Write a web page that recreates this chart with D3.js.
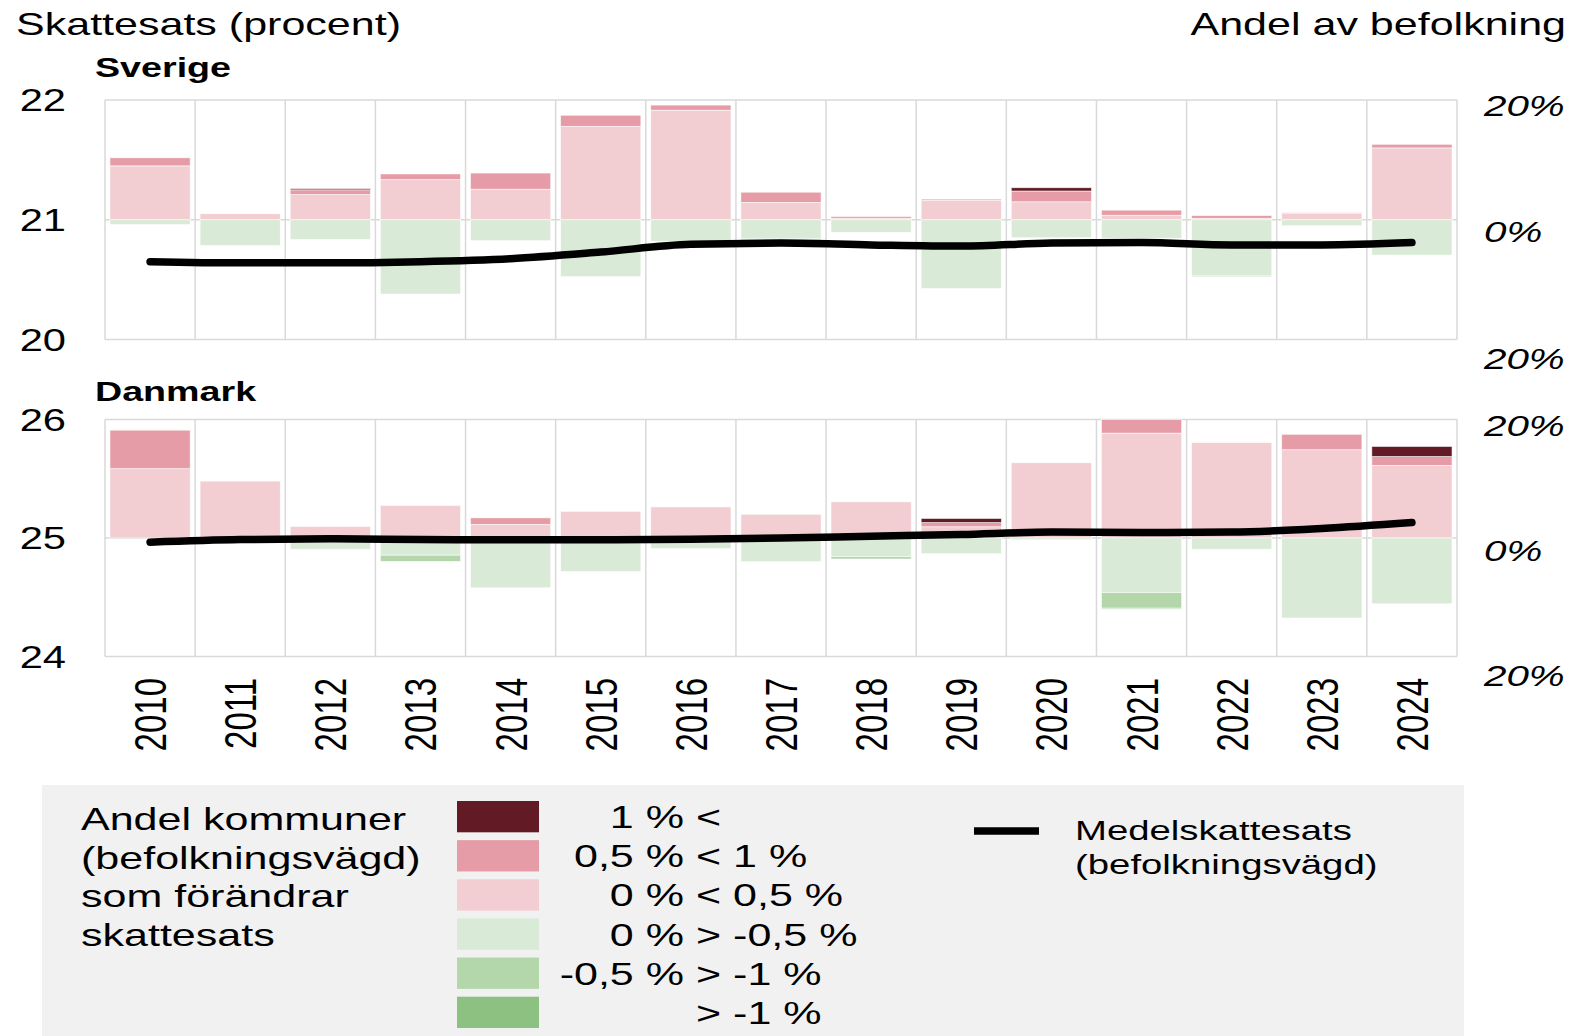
<!DOCTYPE html>
<html>
<head>
<meta charset="utf-8">
<script src="https://cdnjs.cloudflare.com/ajax/libs/d3/7.8.5/d3.min.js"></script>
<style>
	body { margin: 0; background: #fff; }
	svg { display: block; font-family: "Liberation Sans", Arial, sans-serif; }
	.grid line { stroke: #d9d9d9; stroke-width: 1.5; }
	.axis text { fill: #000; }
</style>
</head>
<body>
<div id="chart"></div>
<script>
// tick labels / categories
var years = [2010, 2011, 2012, 2013, 2014, 2015, 2016, 2017, 2018, 2019, 2020, 2021, 2022, 2023, 2024];

// Sverige: mean municipal tax rate (left axis)
var seRate = [20.65, 20.64, 20.64, 20.65, 20.675, 20.73, 20.795, 20.805, 20.79, 20.78, 20.805, 20.81, 20.79, 20.79, 20.81];
// Sverige: share of population (%) by size of change
var seUp1 = [9.0, 1.0, 4.2, 6.7, 5.1, 15.6, 18.3, 2.9, 0.25, 3.25, 3.0, 0.75, 0.25, 1.1, 12.0];   // 0 < 0,5
var seUp2 = [1.35, 0, 0.8, 0.95, 2.7, 1.85, 0.85, 1.7, 0.3, 0.2, 1.8, 0.85, 0.45, 0.1, 0.6];    // 0,5 < 1
var seUp3 = [0, 0, 0.2, 0, 0, 0, 0, 0, 0, 0, 0.55, 0, 0, 0, 0];                                // 1 <
var seDn1 = [0.8, 4.3, 3.3, 12.4, 3.5, 9.5, 3.6, 3.2, 2.1, 11.5, 3.0, 3.1, 9.4, 1.0, 5.9];      // 0 > -0,5
var seDn2 = [0, 0, 0, 0, 0, 0, 0, 0.2, 0, 0, 0, 0, 0.15, 0, 0];                                // -0,5 > -1
var seDn3 = [0, 0, 0, 0, 0, 0, 0, 0, 0, 0, 0, 0, 0, 0, 0];                                     // > -1

// Danmark
var dkRate = [24.965, 24.987, 24.993, 24.987, 24.985, 24.985, 24.99, 25.0, 25.015, 25.03, 25.05, 25.046, 25.05, 25.08, 25.13];
var dkUp1 = [11.7, 9.6, 1.95, 5.5, 2.3, 4.5, 5.25, 4.0, 6.1, 1.9, 12.7, 17.7, 16.1, 14.9, 12.25];
var dkUp2 = [6.5, 0, 0, 0, 1.1, 0, 0, 0, 0, 0.7, 0, 2.3, 0, 2.6, 1.5];
var dkUp3 = [0, 0, 0, 0, 0, 0, 0, 0, 0, 0.7, 0, 0, 0, 0, 1.7];
var dkDn1 = [0, 0.8, 1.9, 2.9, 8.4, 5.65, 1.8, 4.0, 3.15, 2.65, 0.3, 9.2, 1.9, 13.5, 11.1];
var dkDn2 = [0, 0, 0, 1.05, 0, 0, 0, 0, 0.4, 0, 0, 2.65, 0, 0, 0];
var dkDn3 = [0, 0, 0, 0, 0, 0, 0, 0, 0, 0, 0, 0.15, 0, 0, 0];

// legend
var legKeys = ["p3", "p2", "p1", "n1", "n2", "n3"];
var legLeft = ["1 %", "0,5 %", "0 %", "0 %", "-0,5 %", ""];
var legRight = ["<", "< 1 %", "< 0,5 %", "> -0,5 %", "> -1 %", "> -1 %"];
var legTitle = ["Andel kommuner", "(befolkningsvägd)", "som förändrar", "skattesats"];
var lineLabel = ["Medelskattesats", "(befolkningsvägd)"];

var colors = { p3: "#621b24", p2: "#e59ca6", p1: "#f2cdd2", n1: "#d9ebd6", n2: "#b3d6ab", n3: "#8dc182" };

var W = 1572, H = 1036, SX = 1.345;	// text in the reference is stretched horizontally
var left = 105, right = 1457;

var panels = [
	{ name: "Sverige", rate: seRate, up: [seUp1, seUp2, seUp3], dn: [seDn1, seDn2, seDn3], dom: [20, 22], top: 100, bot: 339.5, titleY: 77 },
	{ name: "Danmark", rate: dkRate, up: [dkUp1, dkUp2, dkUp3], dn: [dkDn1, dkDn2, dkDn3], dom: [24, 26], top: 419.5, bot: 656.5, titleY: 401 }
];

var svg = d3.select("#chart").append("svg").attr("width", W).attr("height", H);

function stretch(sel, x, y) {
	return sel.attr("transform", "translate(" + x + "," + y + ") scale(" + SX + ",1)");
}

var xSc = d3.scaleBand().domain(years).range([left, right]).padding(0);
var inset = xSc.bandwidth() * 0.055;

var stack = d3.stack().keys(["p1", "p2", "p3", "n1", "n2", "n3"]).offset(d3.stackOffsetDiverging);

// titles
stretch(svg.append("text"), 16, 35).style("font-size", "32px").text("Skattesats (procent)");
stretch(svg.append("text"), 1566, 35).style("font-size", "32px").style("text-anchor", "end").text("Andel av befolkning");

panels.forEach(function(p) {
	var ySc = d3.scaleLinear().domain(p.dom).range([p.bot, p.top]);
	var pSc = d3.scaleLinear().domain([-20, 20]).range([p.bot, p.top]);
	var pLab = d3.scaleLinear().domain([-20, 20]).range([p.bot + 18, p.top + 5]);	// labels sit a bit below their lines

	var rows = years.map(function(y, i) {
		return { year: y, p1: p.up[0][i], p2: p.up[1][i], p3: p.up[2][i], n1: -p.dn[0][i], n2: -p.dn[1][i], n3: -p.dn[2][i] };
	});

	var g = svg.append("g");

	// grid
	var grid = g.append("g").classed("grid", true);
	grid.selectAll(".h").data(ySc.ticks(2)).enter().append("line")
		.attr("x1", left).attr("x2", right)
		.attr("y1", function(d) { return ySc(d); }).attr("y2", function(d) { return ySc(d); });
	grid.selectAll(".v").data(years.concat(["end"])).enter().append("line")
		.attr("x1", function(d) { return d == "end" ? right : xSc(d); })
		.attr("x2", function(d) { return d == "end" ? right : xSc(d); })
		.attr("y1", p.top).attr("y2", p.bot);

	// bars
	g.append("g").selectAll("g").data(stack(rows)).enter().append("g")
		.attr("fill", function(s) { return colors[s.key]; })
		.selectAll("rect").data(function(s) { return s; }).enter().append("rect")
		.attr("x", function(d) { return xSc(d.data.year) + inset; })
		.attr("width", xSc.bandwidth() - 2 * inset)
		.attr("y", function(d) { return pSc(Math.max(d[0], d[1])); })
		.attr("height", function(d) { return Math.abs(pSc(d[0]) - pSc(d[1])); })
		.attr("stroke", "#fff").attr("stroke-width", 0.8).attr("stroke-opacity", 0.7);

	// mean tax rate line
	var line = d3.line()
		.x(function(d, i) { return xSc(years[i]) + xSc.bandwidth() / 2; })
		.y(function(d) { return ySc(d); })
		.curve(d3.curveMonotoneX);
	g.append("path").datum(p.rate).attr("d", line)
		.attr("fill", "none").attr("stroke", "#000").attr("stroke-width", 7.5)
		.attr("stroke-linecap", "round").attr("stroke-linejoin", "round");

	// left axis
	var la = g.append("g").classed("axis", true).attr("transform", "translate(66,0)")
		.call(d3.axisLeft(ySc).ticks(2).tickFormat(d3.format("d")).tickSize(0).tickPadding(0));
	la.select(".domain").remove();
	la.selectAll("text").attr("x", 0).attr("dy", "0.34em").attr("transform", "scale(" + SX + ",1)")
		.style("font-size", "31px").style("font-family", null);

	// right axis
	var ra = g.append("g").classed("axis", true).attr("transform", "translate(1484,0)")
		.call(d3.axisRight(pLab).tickValues([-20, 0, 20]).tickFormat(function(d) { return Math.abs(d) + "%"; }).tickSize(0).tickPadding(0));
	ra.select(".domain").remove();
	ra.selectAll("text").attr("x", 0).attr("dy", "0.35em").attr("transform", "scale(" + SX + ",1)")
		.style("font-size", "30px").style("font-style", "italic").style("font-family", null);

	stretch(g.append("text"), 95, p.titleY).style("font-size", "28px").style("font-weight", "bold").text(p.name);
});

// year labels
var xa = svg.append("g").classed("axis", true).attr("transform", "translate(0,678)")
	.call(d3.axisBottom(xSc).tickSize(0).tickPadding(0));
xa.select(".domain").remove();
xa.selectAll("text").attr("x", 0).attr("y", 0).attr("dy", "0.36em")
	.attr("transform", "scale(" + SX + ",1) rotate(-90)")
	.style("text-anchor", "end").style("font-size", "33px").style("font-family", null);

// legend
var leg = svg.append("g").classed("legend", true);
leg.append("rect").attr("x", 42).attr("y", 785).attr("width", 1422).attr("height", 260).attr("fill", "#f1f1f1");

legTitle.forEach(function(t, i) {
	stretch(leg.append("text"), 81, 830 + i * 38.6).style("font-size", "32px").text(t);
});

var legY = d3.scaleBand().domain(legKeys).range([801, 1028]).paddingInner(0.2);
var items = leg.selectAll(".item").data(legKeys).enter().append("g").classed("item", true);
items.append("rect").attr("x", 457).attr("width", 82)
	.attr("y", function(d) { return legY(d); }).attr("height", legY.bandwidth())
	.attr("fill", function(d) { return colors[d]; });
items.each(function(d, i) {
	var cy = legY(d) + legY.bandwidth() / 2 + 11.5;
	var it = d3.select(this);
	stretch(it.append("text"), 684, cy).style("font-size", "32px").style("text-anchor", "end").text(legLeft[i]);
	stretch(it.append("text"), 696, cy).style("font-size", "32px").text(legRight[i]);
});

leg.append("line").attr("x1", 974).attr("x2", 1039).attr("y1", 831).attr("y2", 831)
	.attr("stroke", "#000").attr("stroke-width", 7.5);
lineLabel.forEach(function(t, i) {
	stretch(leg.append("text"), 1075, 840 + i * 34).style("font-size", "28.5px").text(t);
});
</script>
</body>
</html>
